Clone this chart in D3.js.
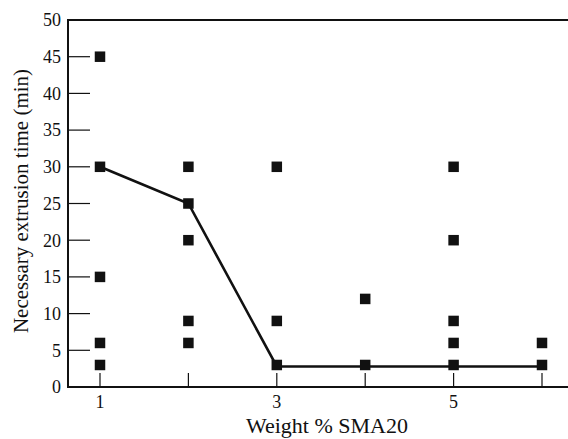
<!DOCTYPE html>
<html>
<head>
<script src="https://d3js.org/d3.v7.min.js"></script>
<style>
  body { margin: 0; background: #fff; }
  text { font-family: "Liberation Serif", "DejaVu Serif", serif; fill: #111; }
</style>
</head>
<body>
<svg width="568" height="439"></svg>
<script>
// measured points: weight % SMA20 and extrusion time (min)
var pointsX = [1, 1, 1, 1, 1, 2, 2, 2, 2, 2, 3, 3, 3, 4, 4, 5, 5, 5, 5, 5, 6, 6];
var pointsY = [45, 30, 15, 6, 3, 30, 25, 20, 9, 6, 30, 9, 3, 12, 3, 30, 20, 9, 6, 3, 6, 3];
// necessary time curve
var lineX = [1, 2, 3, 4, 5, 6];
var lineY = [30, 25, 2.8, 2.8, 2.8, 2.8];
var xTicks = [1, 2, 3, 4, 5, 6];
var xLabels = [1, 3, 5];
var yTicks = [0, 5, 10, 15, 20, 25, 30, 35, 40, 45, 50];

var svg = d3.select("svg");
var plotLeft = 68, plotRight = 568, plotTop = 20, plotBottom = 387;

var x = d3.scaleLinear().domain([1, 6]).range([100, 542]);
var y = d3.scaleLinear().domain([0, 50]).range([plotBottom, plotTop]);

// frame: top, left and bottom lines
svg.append("path")
  .attr("d", "M" + plotRight + "," + plotTop + "H" + plotLeft + "V" + plotBottom + "H" + plotRight)
  .attr("fill", "none").attr("stroke", "#111").attr("stroke-width", 2);

// y ticks (inward)
svg.selectAll(".yt").data(yTicks.filter(function (d) { return d > 0 && d < 50; }))
  .enter().append("line")
  .attr("x1", plotLeft).attr("x2", plotLeft + 22)
  .attr("y1", function (d) { return y(d); }).attr("y2", function (d) { return y(d); })
  .attr("stroke", "#111").attr("stroke-width", 1.2);

svg.selectAll(".yl").data(yTicks).enter().append("text")
  .attr("x", plotLeft - 7).attr("y", function (d) { return y(d); })
  .attr("dy", "0.35em").attr("text-anchor", "end")
  .style("font-size", "18px")
  .text(function (d) { return d; });

// x ticks (inward)
svg.selectAll(".xt").data(xTicks).enter().append("line")
  .attr("x1", function (d) { return x(d); }).attr("x2", function (d) { return x(d); })
  .attr("y1", plotBottom).attr("y2", plotBottom - 14)
  .attr("stroke", "#111").attr("stroke-width", 1.2);

svg.selectAll(".xl").data(xLabels).enter().append("text")
  .attr("x", function (d) { return x(d); }).attr("y", plotBottom + 21)
  .attr("text-anchor", "middle")
  .style("font-size", "18px")
  .text(function (d) { return d; });

// axis titles
svg.append("text")
  .attr("x", 327).attr("y", 433)
  .attr("text-anchor", "middle")
  .style("font-size", "22px")
  .text("Weight % SMA20");

svg.append("text")
  .attr("transform", "translate(28,201) rotate(-90)")
  .attr("text-anchor", "middle")
  .style("font-size", "21px")
  .text("Necessary extrusion time (min)");

// curve
var line = d3.line()
  .x(function (d) { return x(d[0]); })
  .y(function (d) { return y(d[1]); });

svg.append("path")
  .datum(d3.zip(lineX, lineY))
  .attr("d", line)
  .attr("fill", "none").attr("stroke", "#111").attr("stroke-width", 2.6);

// markers
var s = 10.5;
svg.selectAll(".pt").data(d3.zip(pointsX, pointsY)).enter().append("rect")
  .attr("x", function (d) { return x(d[0]) - s / 2; })
  .attr("y", function (d) { return y(d[1]) - s / 2; })
  .attr("width", s).attr("height", s)
  .attr("fill", "#111");
</script>
</body>
</html>
